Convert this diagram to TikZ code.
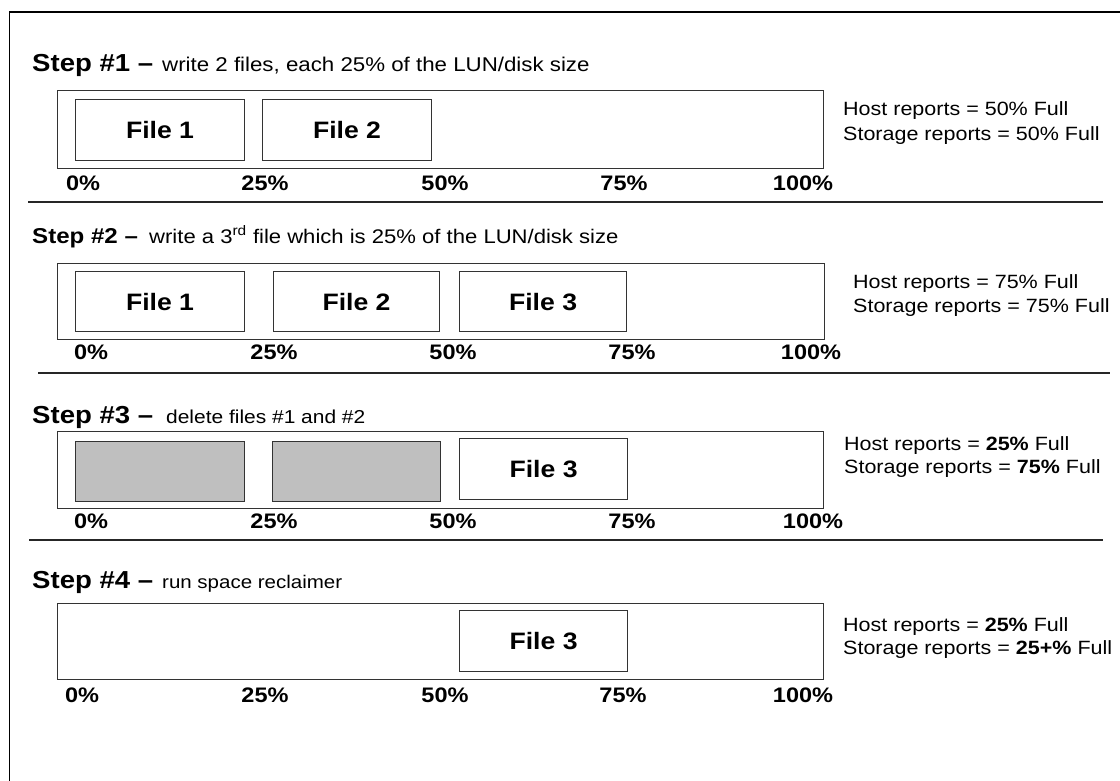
\documentclass[tikz,border=0pt]{standalone}
\usepackage{fontspec}
\setmainfont{Liberation Sans}
\usepackage{graphicx}
\newcommand{\hs}[1]{\scalebox{1.12}[1]{#1}}
\newcommand{\fsz}[1]{\fontsize{#1}{#1}\selectfont}
\begin{document}
\begin{tikzpicture}[x=1pt,y=-1pt,
  bar/.style={draw=black!80, line width=1.3pt, fill=white, inner sep=0pt, anchor=north west},
  filebox/.style={draw=black!80, line width=1.1pt, fill=white, inner sep=0pt, anchor=north west, font=\bfseries\fsz{23.75}},
  gone/.style={filebox, fill=black!25},
  pct/.style={anchor=base, font=\bfseries\fsz{21}, inner sep=0pt},
  rep/.style={anchor=base west, font=\fsz{19.2}, inner sep=0pt},
  ttlb/.style={anchor=base west, inner sep=0pt, font=\bfseries\fsz{24.6}},
  ttln/.style={anchor=base west, inner sep=0pt},
  sep/.style={draw=black!85, line width=1.5pt},
  frame/.style={draw=black, line width=1.3pt}
]
\useasboundingbox (0,0) rectangle (1120,780);
% outer frame
\coordinate (fa) at (9.5,785);
\coordinate (fb) at (9.5,12);
\coordinate (fc) at (1125,12);
\draw[frame] (fa) -- (fb) -- (fc);

% ---------- Step 1 ----------
\node[ttlb] (t1b) at (32,71) {\hs{Step \#1 –}};
\node[ttln, font=\fsz{19.9}] (t1n) at (162,71) {\hs{write 2 files, each 25\% of the LUN/disk size}};
\node[bar, minimum width=766, minimum height=78] (bar1) at (57,90) {};
\node[filebox, minimum width=169, minimum height=61] (f11) at (75,99) {\hs{File 1}};
\node[filebox, minimum width=169, minimum height=61] (f12) at (262,99) {\hs{File 2}};
\node[pct] (p10) at (83,190) {\hs{0\%}};
\node[pct] (p11) at (265,190) {\hs{25\%}};
\node[pct] (p12) at (445,190) {\hs{50\%}};
\node[pct] (p13) at (624,190) {\hs{75\%}};
\node[pct] (p14) at (803,190) {\hs{100\%}};
\node[rep] (h1) at (843,115) {\hs{Host reports = 50\% Full}};
\node[rep] (s1) at (843,140) {\hs{Storage reports = 50\% Full}};
\coordinate (l1a) at (28,202);
\coordinate (l1b) at (1103,202);
\draw[sep] (l1a) -- (l1b);

% ---------- Step 2 ----------
\node[ttlb, font=\bfseries\fsz{21.5}] (t2b) at (32,243) {\hs{Step \#2 –}};
\node[ttln, font=\fsz{19.7}] (t2n) at (149,243) {\hs{write a 3\textsuperscript{rd} file which is 25\% of the LUN/disk size}};
\node[bar, minimum width=767, minimum height=76] (bar2) at (57,263) {};
\node[filebox, minimum width=169, minimum height=60] (f21) at (75,271) {\hs{File 1}};
\node[filebox, minimum width=166, minimum height=60] (f22) at (273,271) {\hs{File 2}};
\node[filebox, minimum width=167, minimum height=60] (f23) at (459,271) {\hs{File 3}};
\node[pct] (p20) at (91,359) {\hs{0\%}};
\node[pct] (p21) at (274,359) {\hs{25\%}};
\node[pct] (p22) at (453,359) {\hs{50\%}};
\node[pct] (p23) at (632,359) {\hs{75\%}};
\node[pct] (p24) at (811,359) {\hs{100\%}};
\node[rep] (h2) at (853,288) {\hs{Host reports = 75\% Full}};
\node[rep] (s2) at (853,312) {\hs{Storage reports = 75\% Full}};
\coordinate (l2a) at (38,373);
\coordinate (l2b) at (1110,373);
\draw[sep] (l2a) -- (l2b);

% ---------- Step 3 ----------
\node[ttlb] (t3b) at (32,423) {\hs{Step \#3 –}};
\node[ttln, font=\fsz{18.7}] (t3n) at (166,423) {\hs{delete files \#1 and \#2}};
\node[bar, minimum width=766, minimum height=77] (bar3) at (57,431) {};
\node[gone, minimum width=169, minimum height=60] (g31) at (75,441) {};
\node[gone, minimum width=168, minimum height=60] (g32) at (272,441) {};
\node[filebox, minimum width=168, minimum height=61] (f33) at (459,438) {\hs{File 3}};
\node[pct] (p30) at (91,528) {\hs{0\%}};
\node[pct] (p31) at (274,528) {\hs{25\%}};
\node[pct] (p32) at (453,528) {\hs{50\%}};
\node[pct] (p33) at (632,528) {\hs{75\%}};
\node[pct] (p34) at (813,528) {\hs{100\%}};
\node[rep] (h3) at (844,450) {\hs{Host reports = \textbf{25\%} Full}};
\node[rep] (s3) at (844,473) {\hs{Storage reports = \textbf{75\%} Full}};
\coordinate (l3a) at (29,540);
\coordinate (l3b) at (1103,540);
\draw[sep] (l3a) -- (l3b);

% ---------- Step 4 ----------
\node[ttlb] (t4b) at (32,588) {\hs{Step \#4 –}};
\node[ttln, font=\fsz{18.3}] (t4n) at (162,588) {\hs{run space reclaimer}};
\node[bar, minimum width=766, minimum height=76] (bar4) at (57,603) {};
\node[filebox, minimum width=168, minimum height=61] (f43) at (459,610) {\hs{File 3}};
\node[pct] (p40) at (82,702) {\hs{0\%}};
\node[pct] (p41) at (265,702) {\hs{25\%}};
\node[pct] (p42) at (445,702) {\hs{50\%}};
\node[pct] (p43) at (623,702) {\hs{75\%}};
\node[pct] (p44) at (803,702) {\hs{100\%}};
\node[rep] (h4) at (843,631) {\hs{Host reports = \textbf{25\%} Full}};
\node[rep] (s4) at (843,654) {\hs{Storage reports = \textbf{25+\%} Full}};
\end{tikzpicture}
\end{document}
